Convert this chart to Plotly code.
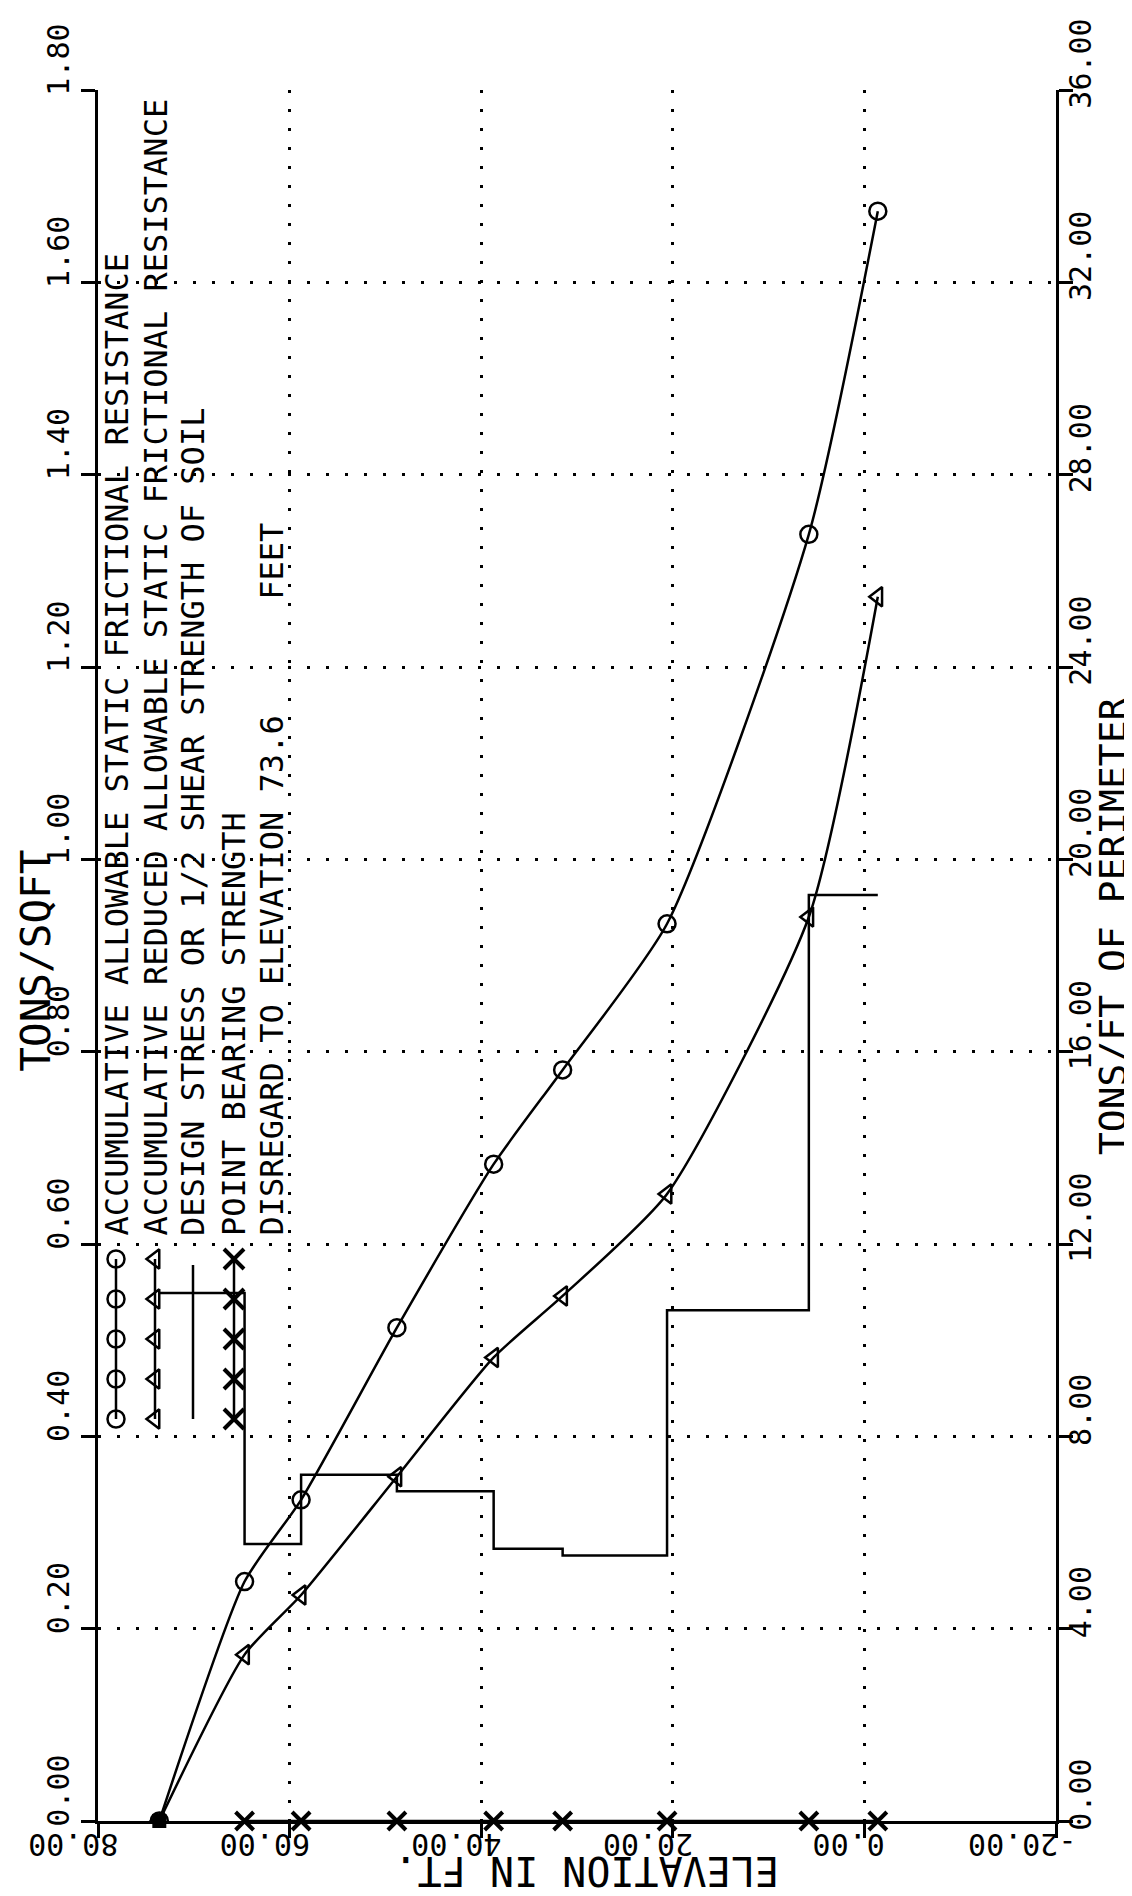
import plotly.graph_objects as go

# ---------------- data ----------------
ELEV = [73.6, 64.7, 58.8, 48.8, 38.7, 31.5, 20.6, 5.8, -1.4]
ALLOWABLE = [0.0, 0.249, 0.334, 0.513, 0.683, 0.781, 0.933, 1.338, 1.674]
REDUCED = [0.0, 0.173, 0.235, 0.358, 0.482, 0.546, 0.652, 0.940, 1.273]
DESIGN = [0.549, 0.288, 0.360, 0.343, 0.283, 0.276, 0.531, 0.963, 0.963]
POINT_BEARING = [0.0, 0.0, 0.0, 0.0, 0.0, 0.0, 0.0, 0.0, 0.0]

ELEV_TICKS = [80, 60, 40, 20, 0, -20]
ELEV_LABELS = ["80.00", "60.00", "40.00", "20.00", "0.00", "-20.00"]
SQFT_TICKS = [0.0, 0.2, 0.4, 0.6, 0.8, 1.0, 1.2, 1.4, 1.6, 1.8]
SQFT_LABELS = ["0.00", "0.20", "0.40", "0.60", "0.80", "1.00", "1.20", "1.40", "1.60", "1.80"]
PERIM_TICKS = [0, 4, 8, 12, 16, 20, 24, 28, 32, 36]
PERIM_LABELS = ["0.00", "4.00", "8.00", "12.00", "16.00", "20.00", "24.00", "28.00", "32.00", "36.00"]

LEGEND_TEXT = [
    "ACCUMULATIVE ALLOWABLE STATIC FRICTIONAL RESISTANCE",
    "ACCUMULATIVE REDUCED ALLOWABLE STATIC FRICTIONAL RESISTANCE",
    "DESIGN STRESS OR 1/2 SHEAR STRENGTH OF SOIL",
    "POINT BEARING STRENGTH",
    "DISREGARD TO ELEVATION 73.6" + "\u00a0" * 6 + "FEET",
]

# ---------------- layout constants (pixels) ----------------
W, H = 1132, 1896
PL, PR, PT, PB = 90, 1048, 82, 1813
LEG_COL_X = [108, 147, 185, 226, 263]
LEG_MARK_Y = [1251, 1291, 1331, 1371, 1411]
LEG_TEXT_BOTTOM = 1230
FONT = "DejaVu Sans Mono"
LW = 2.5
NBSP = "\u00a0"

fig = go.Figure()

fig.add_trace(go.Scatter(
    x=ELEV, y=ALLOWABLE, mode="lines+markers",
    line=dict(color="black", width=LW, shape="spline", smoothing=0.6),
    marker=dict(symbol="circle-open", size=17, color="black", line=dict(width=2.5)),
    name="allowable"))
fig.add_trace(go.Scatter(
    x=ELEV, y=REDUCED, mode="lines+markers",
    line=dict(color="black", width=LW, shape="spline", smoothing=0.6),
    marker=dict(symbol="triangle-left-open", size=17, color="black", line=dict(width=2.5)),
    name="reduced"))
fig.add_trace(go.Scatter(
    x=ELEV, y=DESIGN, mode="lines",
    line=dict(color="black", width=LW, shape="hv"),
    name="design"))
fig.add_trace(go.Scatter(
    x=ELEV[1:], y=POINT_BEARING[1:], mode="lines+markers",
    line=dict(color="black", width=LW),
    marker=dict(symbol="x-thin-open", size=18, color="black", line=dict(width=4)),
    name="point", cliponaxis=False))
fig.add_trace(go.Scatter(
    x=ELEV[:1], y=POINT_BEARING[:1], mode="markers",
    marker=dict(symbol="square", size=14, color="black"),
    name="start", cliponaxis=False))
# invisible trace so that the right-hand (tons/ft) axis is drawn
fig.add_trace(go.Scatter(
    x=ELEV[:1], y=PERIM_TICKS[:1], yaxis="y2", mode="markers",
    marker=dict(opacity=0), hoverinfo="skip"))

# ---------------- rotated legend (pixel overlay axes) ----------------
leg_symbols = ["circle-open", "triangle-left-open", None, "x-thin-open"]
for i, sym in enumerate(leg_symbols):
    xs = [LEG_COL_X[i]] * len(LEG_MARK_Y)
    if sym is None:
        fig.add_trace(go.Scatter(
            x=[LEG_COL_X[i], LEG_COL_X[i]], y=[LEG_MARK_Y[0] + 6, LEG_MARK_Y[-1]],
            mode="lines", line=dict(color="black", width=LW),
            xaxis="x3", yaxis="y3", hoverinfo="skip"))
    else:
        is_x = sym.startswith("x")
        fig.add_trace(go.Scatter(
            x=xs, y=LEG_MARK_Y, mode="lines+markers",
            line=dict(color="black", width=LW),
            marker=dict(symbol=sym, size=20 if is_x else 17, color="black",
                        line=dict(width=4 if is_x else 2.5)),
            xaxis="x3", yaxis="y3", hoverinfo="skip"))

annotations = []
for i, txt in enumerate(LEGEND_TEXT):
    annotations.append(dict(
        x=LEG_COL_X[i], y=LEG_TEXT_BOTTOM, xref="x3", yref="y3",
        text=txt, textangle=-90, showarrow=False,
        xanchor="center", yanchor="bottom",
        font=dict(family=FONT, size=32, color="black")))

# axis titles
annotations.append(dict(
    x=(28 - PL) / (PR - PL), y=0.497, xref="paper", yref="paper",
    text="TONS/SQFT", textangle=-90, showarrow=False,
    xanchor="center", yanchor="middle",
    font=dict(family=FONT, size=41, color="black")))
annotations.append(dict(
    x=(1105 - PL) / (PR - PL), y=0.517, xref="paper", yref="paper",
    text="TONS/FT OF PERIMETER", textangle=-90, showarrow=False,
    xanchor="center", yanchor="middle",
    font=dict(family=FONT, size=38, color="black")))
annotations.append(dict(
    x=(579 - PL) / (PR - PL), y=(PB - 1863) / (PB - PT), xref="paper", yref="paper",
    text="ELEVATION IN FT.", textangle=180, showarrow=False,
    xanchor="center", yanchor="middle",
    font=dict(family=FONT, size=40, color="black")))

grid = dict(showgrid=True, gridcolor="black", gridwidth=3, griddash="3px,16px")
axis_common = dict(ticks="outside", ticklen=14, tickwidth=2.5, tickcolor="black",
                   showline=True, linewidth=2.5, linecolor="black", zeroline=False,
                   automargin=False,
                   tickfont=dict(family=FONT, size=30, color="black"))

elev_text = [lab + NBSP * (6 - len(lab)) for lab in ELEV_LABELS]

fig.update_layout(
    width=W, height=H,
    margin=dict(l=PL, r=W - PR, t=PT, b=H - PB, pad=0, autoexpand=False),
    paper_bgcolor="white", plot_bgcolor="white", showlegend=False,
    font=dict(family=FONT, color="black"),
    xaxis=dict(range=[80, -20], tickmode="array", tickvals=ELEV_TICKS, ticktext=elev_text,
               tickangle=180, ticklabelshift=88, ticklabelstandoff=-10, **grid, **axis_common),
    yaxis=dict(range=[0, 1.8], tickmode="array", tickvals=SQFT_TICKS, ticktext=SQFT_LABELS,
               tickangle=-90, ticklabelshift=-26, ticklabelstandoff=0, **grid, **axis_common),
    yaxis2=dict(range=[0, 36], overlaying="y", side="right", anchor="x",
                tickmode="array", tickvals=PERIM_TICKS, ticktext=PERIM_LABELS,
                tickangle=-90, ticklabelshift=-22, ticklabelstandoff=-18,
                showgrid=False, **axis_common),
    xaxis3=dict(range=[PL, PR], overlaying="x", visible=False),
    yaxis3=dict(range=[PB, PT], overlaying="y", visible=False),
    annotations=annotations,
)

fig.write_html("out.html")
